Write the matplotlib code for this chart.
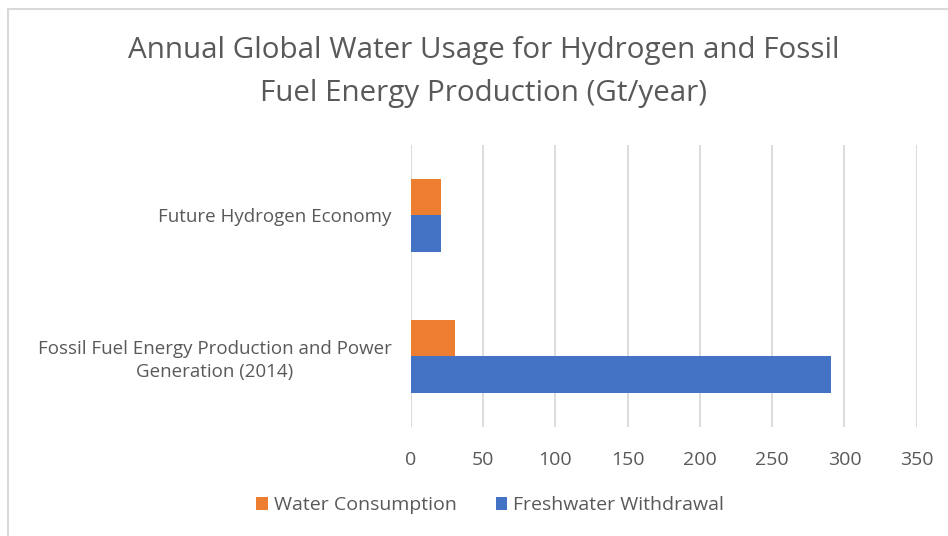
import matplotlib.pyplot as plt
import numpy as np

plt.rcParams['font.family'] = ['Open Sans', 'DejaVu Sans']

categories = ["Fossil Fuel Energy Production and Power\nGeneration (2014)",
              "Future Hydrogen Economy"]
consumption = [30.5, 21]
withdrawal = [291, 21]

ORANGE = '#ED7D31'
BLUE = '#4472C4'
GRAY = '#595959'

fig = plt.figure(figsize=(9.48, 5.36), dpi=100)
ax = fig.add_axes([0.4335, 0.2034, 0.5335, 0.5261])

y = np.arange(len(categories))
h = 0.262
ax.barh(y + h / 2, consumption, height=h, color=ORANGE, label='Water Consumption')
ax.barh(y - h / 2, withdrawal, height=h, color=BLUE, label='Freshwater Withdrawal')

ax.set_xlim(0, 350)
ax.set_ylim(-0.5, 1.5)
ax.set_xticks(np.arange(0, 351, 50))
ax.set_yticks(y)
ax.set_yticklabels(categories, ha='right', multialignment='center', fontsize=13.5,
                   color=GRAY, linespacing=1.35)
ax.tick_params(axis='x', labelsize=14, colors=GRAY, length=0, pad=17)
ax.tick_params(axis='y', length=0, pad=14)
ax.grid(axis='x', color='#D9D9D9', linewidth=1.3)
ax.set_axisbelow(True)
for s in ax.spines.values():
    s.set_visible(False)

fig.text(0.510, 0.866, 'Annual Global Water Usage for Hydrogen and Fossil\nFuel Energy Production (Gt/year)',
         ha='center', va='center', fontsize=21.3, color=GRAY, linespacing=1.65)

leg = fig.legend(loc='center', bbox_to_anchor=(0.517, 0.057), ncol=2, frameon=False,
                 fontsize=14, handlelength=0.6, handleheight=0.6, columnspacing=2.0,
                 handletextpad=0.3)
for t in leg.get_texts():
    t.set_color(GRAY)

# chart frame (only top and left edges visible in the crop)
fig.add_artist(plt.Line2D([8 / 948, 1], [1 - 9 / 536, 1 - 9 / 536], transform=fig.transFigure,
                          color='#D9D9D9', linewidth=1.5))
fig.add_artist(plt.Line2D([8 / 948, 8 / 948], [0, 1 - 9 / 536], transform=fig.transFigure,
                          color='#D9D9D9', linewidth=1.5))

fig.savefig('out.png', dpi=100)
